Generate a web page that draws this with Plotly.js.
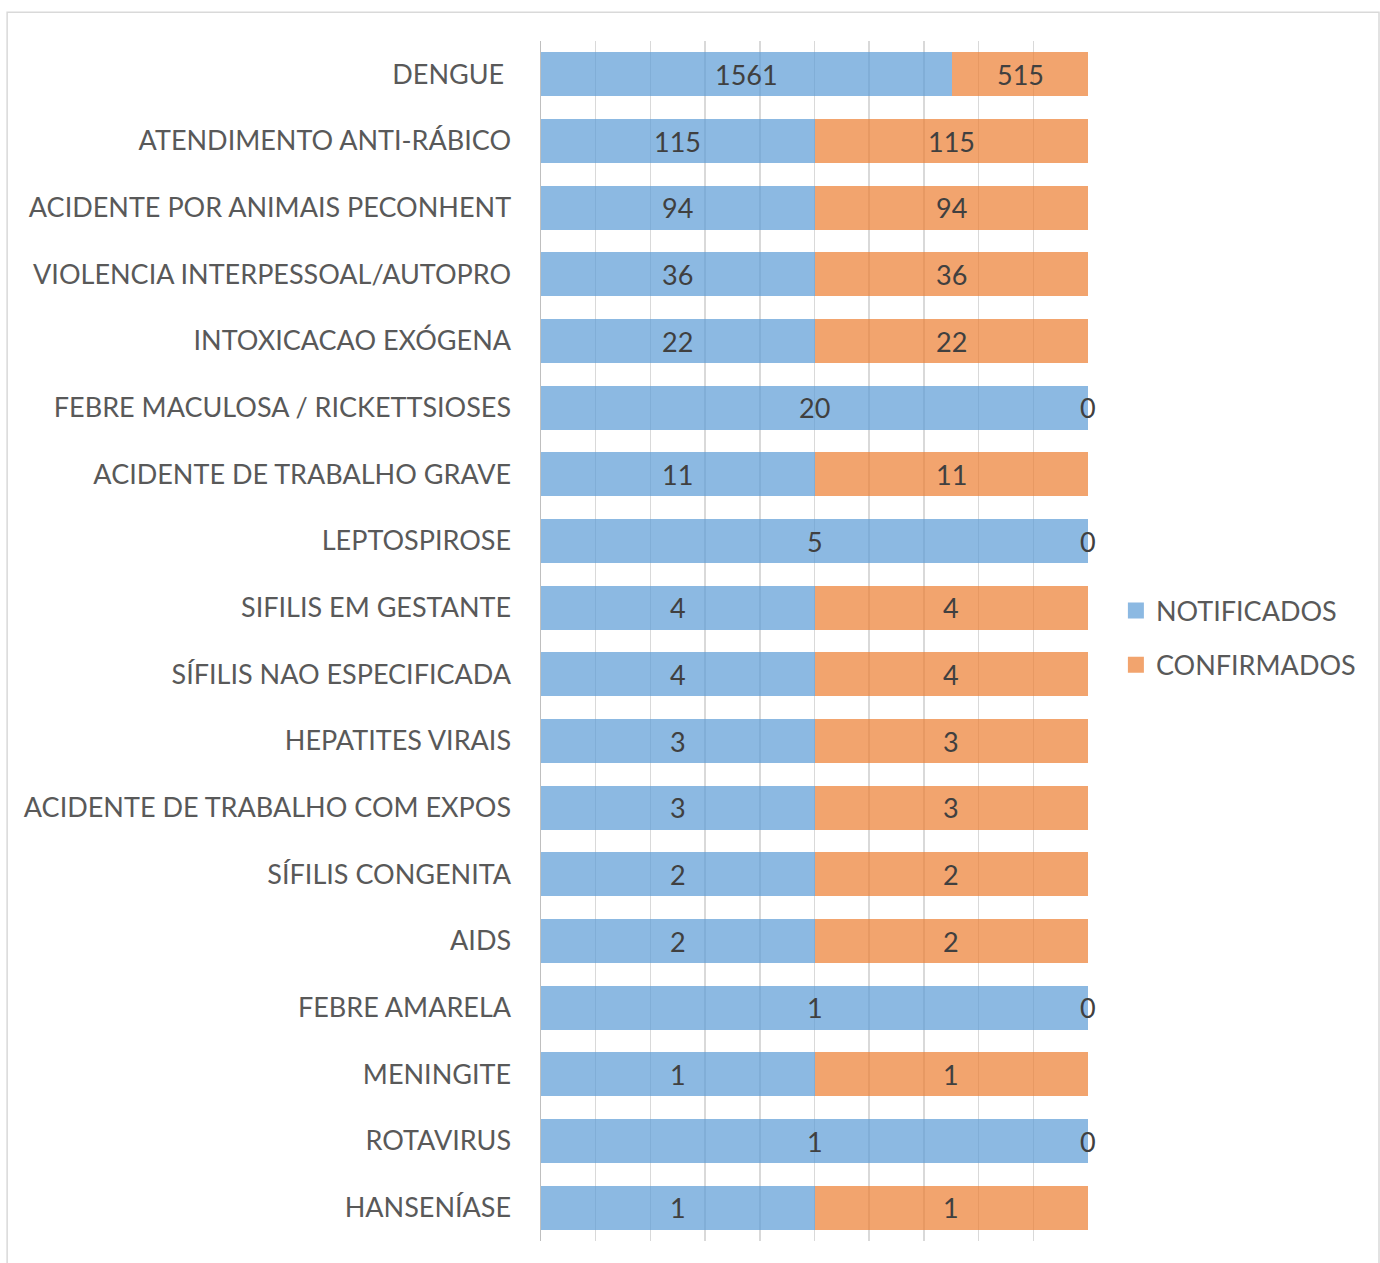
<!DOCTYPE html>
<html><head><meta charset="utf-8">
<script src="https://cdn.plot.ly/plotly-3.0.1.min.js"></script>
<style>html,body{margin:0;padding:0;background:#fff}</style>
</head><body>
<div id="chart" style="width:1380px;height:1263px"></div>
<script>
const categories = ["DENGUE\u00a0","ATENDIMENTO ANTI-RÁBICO","ACIDENTE POR ANIMAIS PECONHENT","VIOLENCIA INTERPESSOAL/AUTOPRO","INTOXICACAO EXÓGENA","FEBRE MACULOSA / RICKETTSIOSES","ACIDENTE DE TRABALHO GRAVE","LEPTOSPIROSE","SIFILIS EM GESTANTE","SÍFILIS NAO ESPECIFICADA","HEPATITES VIRAIS","ACIDENTE DE TRABALHO COM EXPOS","SÍFILIS CONGENITA","AIDS","FEBRE AMARELA","MENINGITE","ROTAVIRUS","HANSENÍASE"];
const notificados = [1561,115,94,36,22,20,11,5,4,4,3,3,2,2,1,1,1,1];
const confirmados = [515,115,94,36,22,0,11,0,4,4,3,3,2,2,0,1,0,1];

const FONT = "Lato, 'Open Sans', sans-serif";
const labelSize = 27;
const BLUE = 'rgba(91,155,213,0.7)';
const ORANGE = 'rgba(237,125,49,0.7)';

// data labels placed at the midpoints of the normalized (percent) stack segments
const totals = notificados.map((v,i)=>v+confirmados[i]);
const annotations = [];
categories.forEach((c,i)=>{
  const t = totals[i];
  const mk = (x, v) => ({x:x, y:c, xref:'x', yref:'y', text:String(v), showarrow:false,
    xanchor:'center', yanchor:'middle', yshift:0,
    font:{family:FONT, size:labelSize, color:'#404040'}});
  annotations.push(mk(notificados[i]/t*50, notificados[i]));
  annotations.push(mk((notificados[i]+confirmados[i]/2)/t*100, confirmados[i]));
});

const traces = [
  {type:'bar', orientation:'h', name:'NOTIFICADOS', y:categories, x:notificados,
   marker:{color:BLUE}, hoverinfo:'none', showlegend:false},
  {type:'bar', orientation:'h', name:'CONFIRMADOS', y:categories, x:confirmados,
   marker:{color:ORANGE}, hoverinfo:'none', showlegend:false},
  {type:'scatter', mode:'markers', name:'NOTIFICADOS', x:[null], y:[null],
   marker:{symbol:'square', size:17, color:BLUE}, legendgroup:'a'},
  {type:'scatter', mode:'markers', name:'CONFIRMADOS', x:[null], y:[null],
   marker:{symbol:'square', size:17, color:ORANGE}, legendgroup:'b'}
];

const layout = {
  width:1380, height:1263,
  margin:{l:541, r:292, t:41, b:22},
  barmode:'stack', barnorm:'percent', bargap:0.34,
  paper_bgcolor:'#fff', plot_bgcolor:'#fff',
  font:{family:FONT, color:'#595959', size:labelSize},
  xaxis:{range:[0,100], dtick:10, showticklabels:false, showgrid:true, gridcolor:'#d9d9d9', gridwidth:1.5,
         zeroline:false, showline:false, fixedrange:true},
  yaxis:{type:'category', categoryorder:'array', categoryarray:categories, range:[categories.length-0.5,-0.5], autorange:false,
         showline:true, linecolor:'#bfbfbf', linewidth:1.5, ticks:'outside', ticklen:23, tickcolor:'rgba(0,0,0,0)',
         tickfont:{family:FONT,size:labelSize,color:'#595959'}, showgrid:false, zeroline:false},
  legend:{x:1.051, y:0.5025, xanchor:'left', yanchor:'middle', font:{family:FONT,size:labelSize,color:'#595959'},
          traceorder:'grouped', tracegroupgap:16, itemwidth:30, bgcolor:'rgba(0,0,0,0)'},
  annotations: annotations,
  shapes:[{type:'rect', xref:'paper', yref:'paper', x0:-0.976, x1:1.532, y0:-0.03, y1:1.024,
           line:{color:'#d9d9d9', width:1.5}, fillcolor:'rgba(0,0,0,0)', layer:'below'}],
  showlegend:true
};
Plotly.newPlot('chart', traces, layout, {displayModeBar:false, staticPlot:true});
</script>
</body></html>
